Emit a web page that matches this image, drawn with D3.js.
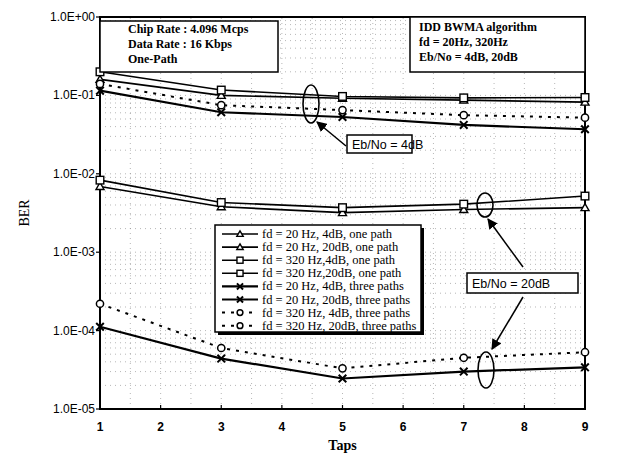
<!DOCTYPE html>
<html>
<head>
<meta charset="utf-8">
<script src="https://cdn.jsdelivr.net/npm/d3@7"></script>
<style>
  body { margin: 0; background: #fff; }
  svg { display: block; }
  .grid line { stroke: #888; stroke-width: 1; stroke-dasharray: 1,4; opacity: 0.6; }
  .ytick { font-family: "Liberation Sans", Arial, sans-serif; font-size: 12px; }
  .xtick { font-family: "Liberation Sans", Arial, sans-serif; font-size: 12px; font-weight: bold; }
  .serif { font-family: "Liberation Serif", "Times New Roman", serif; }
  .sans { font-family: "Liberation Sans", Arial, sans-serif; }
</style>
</head>
<body>
<div class="container"></div>
<script>
// ---------- DATA ----------
var taps = [1, 3, 5, 7, 9]
var yTicks = [1, 1e-1, 1e-2, 1e-3, 1e-4, 1e-5]
var yTickLabels = ["1.0E+00", "1.0E-01", "1.0E-02", "1.0E-03", "1.0E-04", "1.0E-05"]
var xTicks = [1, 2, 3, 4, 5, 6, 7, 8, 9]

var f20_4dB_one    = [0.16, 0.100, 0.092, 0.087, 0.082]
var f20_20dB_one   = [0.0069, 0.0038, 0.0032, 0.0035, 0.0037]
var f320_4dB_one   = [0.20, 0.117, 0.097, 0.093, 0.094]
var f320_20dB_one  = [0.0083, 0.0043, 0.0037, 0.0041, 0.0052]
var f20_4dB_three  = [0.115, 0.061, 0.053, 0.042, 0.037]
var f20_20dB_three = [1.12e-4, 4.4e-5, 2.45e-5, 3.0e-5, 3.4e-5]
var f320_4dB_three = [0.14, 0.075, 0.065, 0.056, 0.052]
var f320_20dB_three= [2.2e-4, 6.0e-5, 3.3e-5, 4.5e-5, 5.3e-5]

var seriesNames = [
  "fd = 20 Hz, 4dB, one path",
  "fd = 20 Hz, 20dB, one path",
  "fd = 320 Hz,4dB, one path",
  "fd = 320 Hz,20dB, one path",
  "fd = 20 Hz, 4dB, three paths",
  "fd = 20 Hz, 20dB, three paths",
  "fd = 320 Hz, 4dB, three paths",
  "fd = 320 Hz, 20dB, three paths"
]
var seriesValues = [f20_4dB_one, f20_20dB_one, f320_4dB_one, f320_20dB_one,
  f20_4dB_three, f20_20dB_three, f320_4dB_three, f320_20dB_three]
var seriesMarker = ["tri", "tri", "sq", "sq", "x", "x", "circ", "circ"]

var infoLeft = ["Chip Rate : 4.096 Mcps", "Data Rate : 16 Kbps", "One-Path"]
var infoRight = ["IDD BWMA algorithm", "fd = 20Hz, 320Hz", "Eb/No = 4dB, 20dB"]

// ---------- SETUP ----------
var width = 617, height = 459
var margin = { top: 17, right: 32, bottom: 50, left: 100 }

var svg = d3.select(".container").append("svg")
  .attr("width", width)
  .attr("height", height)

var x = d3.scaleLinear().domain([1, 9]).range([margin.left, width - margin.right])
var y = d3.scaleLog().domain([1e-5, 1]).range([height - margin.bottom, margin.top])

var x0 = x.range()[0], x1 = x.range()[1], y0 = y.range()[0], y1 = y.range()[1]

// ---------- GRID ----------
var grid = svg.append("g").attr("class", "grid")
var minor = []
for (var e = -5; e < 0; e++) {
  for (var m = 2; m <= 9; m++) minor.push(m * Math.pow(10, e))
}
grid.selectAll(".h").data(minor.concat(yTicks.slice(1, 5))).enter().append("line")
  .attr("x1", x0).attr("x2", x1)
  .attr("y1", function(d) { return y(d) }).attr("y2", function(d) { return y(d) })
grid.selectAll(".v").data(d3.range(1.5, 9, 0.5)).enter().append("line")
  .attr("x1", function(d) { return x(d) }).attr("x2", function(d) { return x(d) })
  .attr("y1", y0).attr("y2", y1)

// ---------- FRAME ----------
svg.append("rect")
  .attr("x", x0).attr("y", y1)
  .attr("width", x1 - x0).attr("height", y0 - y1)
  .attr("fill", "none").attr("stroke", "#000").attr("stroke-width", 2)

svg.append("g").selectAll("line").data(xTicks).enter().append("line")
  .attr("x1", function(d) { return x(d) }).attr("x2", function(d) { return x(d) })
  .attr("y1", y0).attr("y2", y0 - 4)
  .attr("stroke", "#000").attr("stroke-width", 1.2)

svg.append("g").selectAll("line").data(yTicks).enter().append("line")
  .attr("x1", x0 - 4).attr("x2", x0)
  .attr("y1", function(d) { return y(d) }).attr("y2", function(d) { return y(d) })
  .attr("stroke", "#000").attr("stroke-width", 1.2)

svg.append("g").selectAll("text").data(yTicks).enter().append("text")
  .attr("class", "ytick")
  .attr("x", x0 - 5)
  .attr("y", function(d) { return y(d) + 4 })
  .attr("text-anchor", "end")
  .text(function(d, i) { return yTickLabels[i] })

svg.append("g").selectAll("text").data(xTicks).enter().append("text")
  .attr("class", "xtick")
  .attr("x", function(d) { return x(d) })
  .attr("y", y0 + 22)
  .attr("text-anchor", "middle")
  .text(function(d) { return d })

svg.append("text").attr("class", "serif")
  .attr("x", (x0 + x1) / 2).attr("y", 450)
  .attr("text-anchor", "middle")
  .style("font-size", "14px").style("font-weight", "bold")
  .text("Taps")

svg.append("text").attr("class", "serif")
  .attr("transform", "translate(29," + ((y0 + y1) / 2) + ") rotate(-90)")
  .attr("text-anchor", "middle")
  .style("font-size", "14px")
  .text("BER")

// ---------- MARKERS ----------
function marker(g, type, cx, cy, s) {
  s = s || 1
  if (type == "tri") {
    g.append("path")
      .attr("d", "M" + cx + "," + (cy - 4 * s) + "L" + (cx + 4 * s) + "," + (cy + 3 * s) + "L" + (cx - 4 * s) + "," + (cy + 3 * s) + "Z")
      .attr("fill", "#fff").attr("stroke", "#000").attr("stroke-width", 1.4)
  } else if (type == "sq") {
    g.append("rect")
      .attr("x", cx - 3.8 * s).attr("y", cy - 3.8 * s).attr("width", 7.6 * s).attr("height", 7.6 * s)
      .attr("fill", "#fff").attr("stroke", "#000").attr("stroke-width", 1.4)
  } else if (type == "circ") {
    g.append("circle")
      .attr("cx", cx).attr("cy", cy).attr("r", 3.6 * s)
      .attr("fill", "#fff").attr("stroke", "#000").attr("stroke-width", 1.5)
  } else {
    g.append("path")
      .attr("d", "M" + (cx - 3.8 * s) + "," + (cy - 3.8 * s) + "L" + (cx + 3.8 * s) + "," + (cy + 3.8 * s) +
        "M" + (cx - 3.8 * s) + "," + (cy + 3.8 * s) + "L" + (cx + 3.8 * s) + "," + (cy - 3.8 * s))
      .attr("stroke", "#000").attr("stroke-width", 2)
  }
}

function lineStyle(sel, type) {
  sel.attr("fill", "none").attr("stroke", "#000")
    .attr("stroke-width", type == "x" ? 2.2 : (type == "circ" ? 2 : 1.6))
    .attr("stroke-dasharray", type == "circ" ? "3,6" : null)
}

// ---------- SERIES ----------
var line = d3.line()
  .x(function(d, i) { return x(taps[i]) })
  .y(function(d) { return y(d) })

var plot = svg.append("g")
seriesValues.forEach(function(vals, k) {
  lineStyle(plot.append("path").attr("d", line(vals)), seriesMarker[k])
})
seriesValues.forEach(function(vals, k) {
  vals.forEach(function(v, i) { marker(plot, seriesMarker[k], x(taps[i]), y(v)) })
})

// ---------- INFO BOXES ----------
svg.append("rect").attr("x", x0).attr("y", 21).attr("width", 178).attr("height", 51)
  .attr("fill", "#fff").attr("stroke", "#000").attr("stroke-width", 1.5)
svg.append("g").selectAll("text").data(infoLeft).enter().append("text")
  .attr("class", "serif")
  .attr("x", 128).attr("y", function(d, i) { return 33 + i * 15 })
  .style("font-size", "12px").style("font-weight", "bold")
  .text(function(d) { return d })

svg.append("rect").attr("x", 410).attr("y", y1).attr("width", x1 - 410).attr("height", 55)
  .attr("fill", "#fff").attr("stroke", "#000").attr("stroke-width", 1.5)
svg.append("g").selectAll("text").data(infoRight).enter().append("text")
  .attr("class", "serif")
  .attr("x", 419).attr("y", function(d, i) { return 31 + i * 15 })
  .style("font-size", "12px").style("font-weight", "bold")
  .text(function(d) { return d })

// ---------- LEGEND ----------
var lg = { x: 215, y: 225, w: 206, h: 107 }
svg.append("defs").append("clipPath").attr("id", "legclip")
  .append("rect").attr("x", lg.x).attr("y", lg.y).attr("width", lg.w).attr("height", lg.h)
svg.append("rect").attr("x", lg.x + 3).attr("y", lg.y + 3).attr("width", lg.w).attr("height", lg.h)
  .attr("fill", "#000")
svg.append("rect").attr("x", lg.x).attr("y", lg.y).attr("width", lg.w).attr("height", lg.h)
  .attr("fill", "#fff").attr("stroke", "#000").attr("stroke-width", 1.5)

var legend = svg.append("g").attr("clip-path", "url(#legclip)")
seriesNames.forEach(function(name, k) {
  var ry = 234 + k * 13.1
  lineStyle(legend.append("line").attr("x1", 222).attr("x2", 258).attr("y1", ry).attr("y2", ry), seriesMarker[k])
  marker(legend, seriesMarker[k], 240, ry, 0.8)
  legend.append("text").attr("class", "serif")
    .attr("x", 262).attr("y", ry + 4)
    .style("font-size", "12.5px")
    .text(name)
})

// ---------- ANNOTATIONS ----------
svg.append("defs").append("marker").attr("id", "arrow")
  .attr("viewBox", "0 0 10 10").attr("refX", 9).attr("refY", 5)
  .attr("markerWidth", 7).attr("markerHeight", 7).attr("orient", "auto")
  .append("path").attr("d", "M0,0L10,5L0,10Z").attr("fill", "#000")

function ellipse(cx, cy, rx, ry) {
  svg.append("ellipse").attr("cx", cx).attr("cy", cy).attr("rx", rx).attr("ry", ry)
    .attr("fill", "none").attr("stroke", "#000").attr("stroke-width", 1.6)
}
function arrow(xa, ya, xb, yb) {
  svg.append("line").attr("x1", xa).attr("y1", ya).attr("x2", xb).attr("y2", yb)
    .attr("stroke", "#000").attr("stroke-width", 1.5).attr("marker-end", "url(#arrow)")
}
function label(bx, by, bw, bh, txt) {
  svg.append("rect").attr("x", bx).attr("y", by).attr("width", bw).attr("height", bh)
    .attr("fill", "#fff").attr("stroke", "#000").attr("stroke-width", 1.5)
  svg.append("text").attr("class", "sans")
    .attr("x", bx + 5).attr("y", by + bh / 2 + 4.5)
    .style("font-size", "12.5px")
    .text(txt)
}

ellipse(311, 104, 8, 19)
arrow(346, 146, 317, 122)
label(347, 135, 65, 18, "Eb/No = 4dB")

ellipse(485, 205, 8, 12)
ellipse(486, 370, 8, 18)
arrow(523, 267, 488, 219)
arrow(523, 297, 492, 349)
label(467, 273, 111, 20, "Eb/No = 20dB")
</script>
</body>
</html>
